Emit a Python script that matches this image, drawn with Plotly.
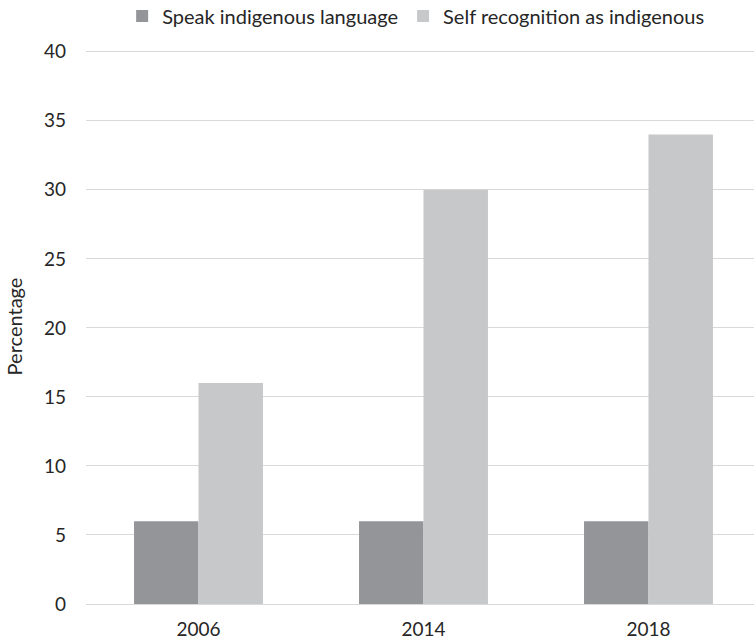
import plotly.graph_objects as go

years = ["2006", "2014", "2018"]
speak = [6, 6, 6]
self_rec = [16, 30, 34]
y_ticks = [0, 5, 10, 15, 20, 25, 30, 35, 40]

FONT = "Lato"
fig = go.Figure()
fig.add_bar(x=years, y=speak, name="Speak indigenous language",
            marker=dict(color="#939598", line=dict(width=0)))
fig.add_bar(x=years, y=self_rec, name="Self recognition as indigenous",
            marker=dict(color="#c7c8ca", line=dict(width=0)))

fig.update_layout(
    width=754, height=642,
    margin=dict(l=86, r=0, t=49, b=38, autoexpand=False),
    paper_bgcolor="white", plot_bgcolor="white",
    barmode="group", bargap=0.427, bargroupgap=0,
    font=dict(family=FONT, size=20, color="#262626"),
    showlegend=True,
    legend=dict(orientation="h", x=0.162, xanchor="left", xref="container",
                y=0.975, yanchor="middle", yref="container",
                font=dict(size=20), traceorder="normal", bgcolor="rgba(0,0,0,0)"),
    xaxis=dict(type="category", range=[-0.5, 2.469], showgrid=False,
               showline=True, linecolor="#d9d9d9", linewidth=1,
               ticks="", tickfont=dict(size=19), ticklabelstandoff=8),
    yaxis=dict(range=[0, 40.2], tickvals=y_ticks, showgrid=True, gridcolor="#d9d9d9",
               gridwidth=1, zeroline=False, showline=False, ticks="",
               tickfont=dict(size=19), ticklabelstandoff=19,
               title=dict(text="Percentage", standoff=15, font=dict(size=20))),
)
fig.write_html("out.html")
